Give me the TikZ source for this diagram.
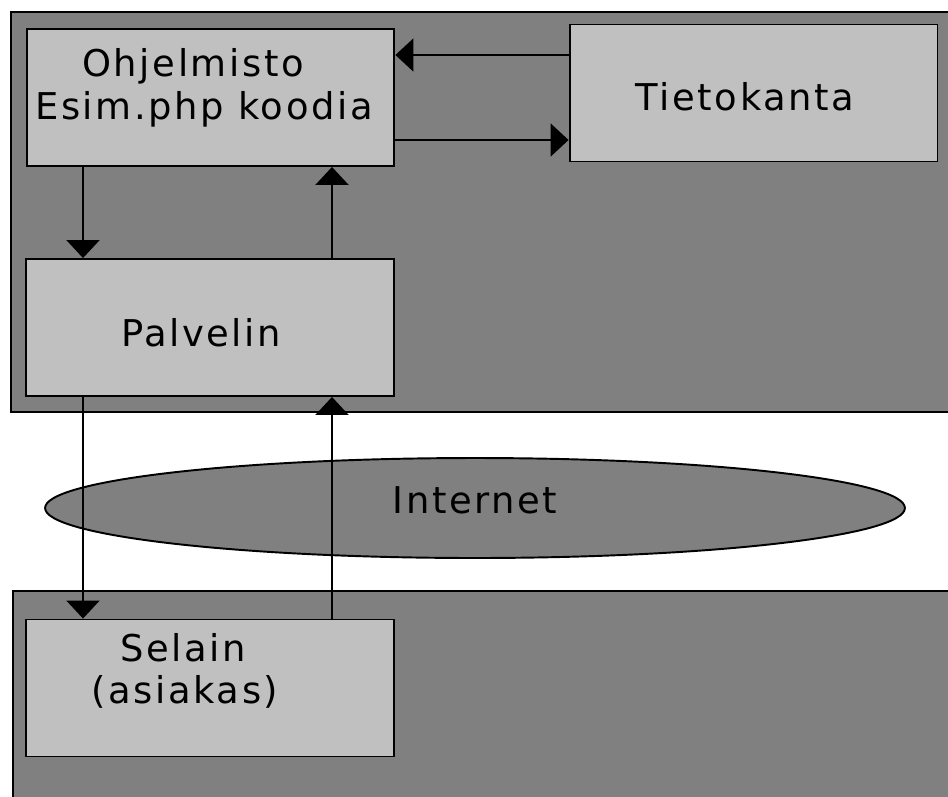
\documentclass[tikz,border=0pt]{standalone}
\usepackage{fontspec}
\setmainfont{DejaVu Sans}[LetterSpace=7]
\usetikzlibrary{arrows.meta,shapes.geometric}
\definecolor{panelgrey}{HTML}{808080}
\definecolor{boxgrey}{HTML}{C0C0C0}
\tikzset{
  panel/.style={draw=black, fill=panelgrey, line width=1.1pt},
  box/.style={draw=black, fill=boxgrey, line width=1.1pt, rectangle, inner sep=0pt,
              minimum width=7.36cm, minimum height=2.74cm},
  cloud/.style={draw=black, fill=panelgrey, line width=1.1pt, ellipse, inner sep=0pt,
                minimum width=17.2cm, minimum height=2cm},
  lbl/.style={anchor=base, inner sep=0pt, font=\fontsize{21}{24}\selectfont},
  arr/.style={draw=black, line width=1.1pt, -{Triangle[width=0.66cm,length=0.36cm]}}
}
\begin{document}
\begin{tikzpicture}[x=0.02cm, y=-0.02cm]
  \useasboundingbox (0,0) rectangle (948,796);
  \fill[white] (0,0) rectangle (948,796);

  % server side and client side panels
  \draw[panel] (11,12) rectangle (960,412);
  \draw[panel] (13,591) rectangle (960,810);

  % boxes
  \node[box] (ohj)  at (210.5,97.5) {};
  \node[box] (tieto) at (753.5,93) {};
  \node[box] (palv) at (210,327.5) {};
  \node[box] (sel)  at (210,688) {};
  \node[cloud] (net) at (475,508) {};

  % labels
  \node[lbl] (t1) at (193,76)  {Ohjelmisto};
  \node[lbl] (t2) at (204,119) {Esim.php koodia};
  \node[lbl] (t3) at (745,110) {Tietokanta};
  \node[lbl] (t4) at (201,346) {Palvelin};
  \node[lbl] (t5) at (475,513) {Internet};
  \node[lbl] (t6) at (183,661) {Selain};
  \node[lbl] (t7) at (185,703) {(asiakas)};

  % guide coordinates for connector positions
  \coordinate (xl) at (83,0);
  \coordinate (xr) at (332,0);
  \coordinate (yt) at (0,55);
  \coordinate (yb) at (0,140);

  % connectors
  \draw[arr] (tieto.west |- yt) -- (ohj.east |- yt);
  \draw[arr] (ohj.east |- yb) -- (tieto.west |- yb);
  \draw[arr] (ohj.south -| xl) -- (palv.north -| xl);
  \draw[arr] (palv.north -| xr) -- (ohj.south -| xr);
  \draw[arr] (palv.south -| xl) -- (sel.north -| xl);
  \draw[arr] (sel.north -| xr) -- (palv.south -| xr);
\end{tikzpicture}
\end{document}
